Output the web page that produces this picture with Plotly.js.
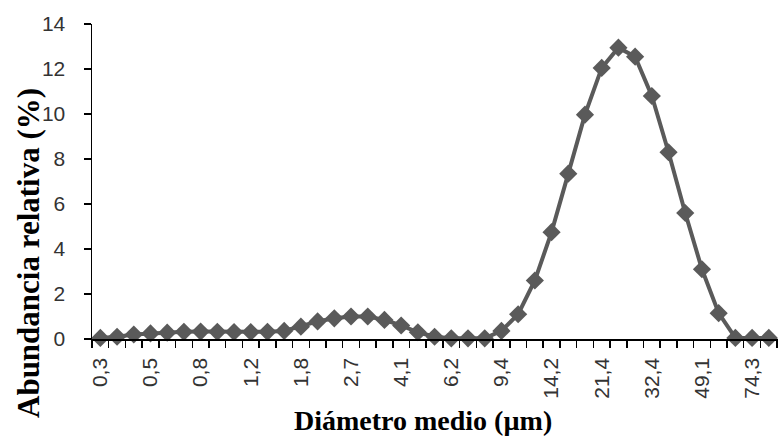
<!DOCTYPE html>
<html>
<head>
<meta charset="utf-8">
<script src="https://cdn.plot.ly/plotly-3.0.1.min.js"></script>
<style>html,body{margin:0;padding:0;background:#fff;}</style>
</head>
<body>
<div id="chart" style="width:778px;height:438px;"></div>
<script>
// Diámetro medio (µm) categories
const categories = ["0,3","0,4","0,4","0,5","0,6","0,7","0,8","0,9","1,0","1,2","1,3","1,5","1,8","2,0","2,3","2,7","3,1","3,5","4,1","4,7","5,4","6,2","7,1","8,2","9,4","10,8","12,4","14,2","16,3","18,7","21,4","24,6","28,2","32,4","37,2","42,7","49,1","56,4","64,7","74,3","85,3"];
// Abundancia relativa (%)
const abundance = [0.05,0.1,0.2,0.25,0.28,0.32,0.33,0.32,0.31,0.31,0.32,0.36,0.55,0.78,0.92,1.0,1.0,0.85,0.6,0.3,0.1,0.03,0.03,0.03,0.36,1.1,2.6,4.75,7.35,9.97,12.05,12.95,12.55,10.8,8.3,5.6,3.1,1.15,0.05,0.05,0.05];
// labelled categories (every third)
const tickLabels = ["0,3","0,5","0,8","1,2","1,8","2,7","4,1","6,2","9,4","14,2","21,4","32,4","49,1","74,3"];
const yTicks = [0,2,4,6,8,10,12,14];

const xIdx = categories.map((c, i) => i);
const tickIdx = tickLabels.map(t => { for (let i = 0; i < categories.length; i += 3) { if (categories[i] === t) return i; } return -1; });

const trace = {
  x: xIdx,
  y: abundance,
  type: 'scatter',
  mode: 'lines+markers',
  line: {color: '#5a5a5a', width: 4},
  marker: {symbol: 'diamond', size: 14, color: '#5a5a5a'},
  cliponaxis: false,
  hoverinfo: 'skip'
};

const tickFont = {family: 'Liberation Sans, Arial, sans-serif', size: 21, color: '#333'};
const serif = 'Liberation Serif, Times New Roman, serif';

const layout = {
  width: 778, height: 438,
  margin: {l: 92, r: 0, t: 24, b: 99, pad: 0},
  paper_bgcolor: '#fff', plot_bgcolor: '#fff',
  showlegend: false,
  xaxis: {
    range: [-0.5, 40.55],
    tickmode: 'array',
    tickvals: tickIdx,
    ticktext: tickLabels,
    tickangle: -90,
    ticks: '',
    ticklabelstandoff: 9,
    showline: true, linecolor: '#000', linewidth: 1.5,
    showgrid: false, zeroline: false,
    tickfont: tickFont,
    minor: {tickmode: 'linear', tick0: -0.5, dtick: 1, ticks: 'outside', ticklen: 7, tickcolor: '#000', tickwidth: 1.5, showgrid: false}
  },
  yaxis: {
    range: [0, 14],
    tickmode: 'array',
    tickvals: yTicks,
    ticktext: yTicks.map(String),
    ticks: 'outside', ticklen: 7, tickcolor: '#000', tickwidth: 1.5,
    ticklabelstandoff: 14,
    showline: true, linecolor: '#000', linewidth: 1.5,
    showgrid: false, zeroline: false,
    tickfont: tickFont
  },
  annotations: [
    {text: 'Abundancia relativa (%)', xref: 'paper', yref: 'paper', x: -0.0933, y: 0.273,
     xanchor: 'center', yanchor: 'middle', textangle: -90, showarrow: false,
     font: {family: serif, size: 31, color: '#000', weight: 'bold'}},
    {text: 'Diámetro medio (µm)', xref: 'paper', yref: 'paper', x: 0.4825, y: -0.258,
     xanchor: 'center', yanchor: 'middle', showarrow: false,
     font: {family: serif, size: 28, color: '#000', weight: 'bold'}}
  ]
};

Plotly.newPlot('chart', [trace], layout, {displayModeBar: false, staticPlot: true});
</script>
</body>
</html>
